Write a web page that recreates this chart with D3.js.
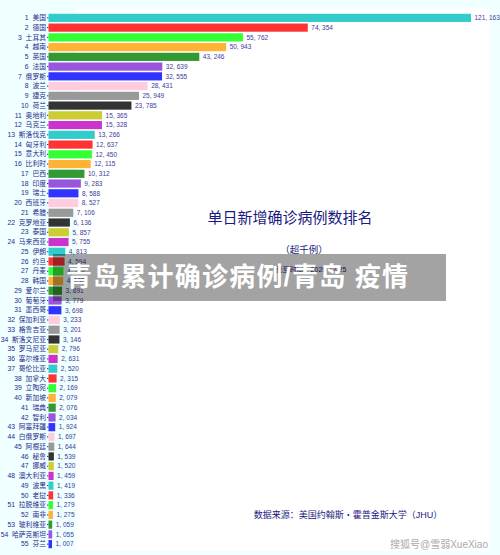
<!DOCTYPE html>
<html>
<head>
<meta charset="utf-8">
<script src="https://cdn.jsdelivr.net/npm/d3@7"></script>
<style>
html, body { margin: 0; padding: 0; background: #f0ffff; }
svg { display: block; }
text { font-family: "Liberation Sans", "Noto Sans CJK SC", sans-serif; }
</style>
</head>
<body>
<div id="svg-container"></div>
<script>
"use strict";
const countries = ["美国", "德国", "土耳其", "越南", "英国", "法国", "俄罗斯", "波兰", "捷克", "荷兰",
    "奥地利", "乌克兰", "斯洛伐克", "匈牙利", "意大利", "比利时", "巴西", "印度", "瑞士", "西班牙",
    "希腊", "克罗地亚", "泰国", "马来西亚", "伊朗", "约旦", "丹麦", "韩国", "爱尔兰", "葡萄牙",
    "墨西哥", "保加利亚", "格鲁吉亚", "斯洛文尼亚", "罗马尼亚", "塞尔维亚", "哥伦比亚", "加拿大", "立陶宛", "新加坡",
    "瑞典", "智利", "阿塞拜疆", "白俄罗斯", "阿根廷", "秘鲁", "挪威", "澳大利亚", "波黑", "老挝",
    "拉脱维亚", "南非", "玻利维亚", "哈萨克斯坦", "芬兰"];
const cases = [121163, 74354, 55762, 50943, 43246, 32639, 32555, 28431, 25949, 23785,
    15365, 15328, 13266, 12637, 12450, 12115, 10312, 9283, 8588, 8527,
    7106, 6136, 5857, 5755, 4813, 4594, 4294, 4197, 3891, 3779,
    3698, 3233, 3201, 3146, 2796, 2631, 2520, 2315, 2169, 2079,
    2076, 2034, 1924, 1697, 1644, 1539, 1520, 1459, 1419, 1336,
    1279, 1275, 1059, 1055, 1007];
const palette = ["#33cccc", "#ff3333", "#33ff33", "#ffb233", "#339933", "#9955dd",
    "#3333ff", "#ffccdd", "#999999", "#333333", "#cccc33", "#cc33cc"];

const width = 500;
const height = 555;
const navy = "#2b2b8c";

const svg = d3.select("#svg-container")
    .append("svg")
    .attr("width", width)
    .attr("height", height);

// white plot panel
svg.append("rect")
    .attr("x", 76)
    .attr("y", 8)
    .attr("width", 414)
    .attr("height", 543)
    .attr("fill", "#fff");

const x = d3.scaleLinear()
    .domain([0, 121163])
    .range([48.5, 471]);
const y = d3.scaleBand()
    .domain(countries)
    .range([13, 549])
    .paddingInner(0.16)
    .paddingOuter(0.08);

const rank = new Map(countries.map((d, i) => [d, i]));

const axis = d3.axisLeft(y)
    .tickSize(1.5)
    .tickPadding(1)
    .tickFormat(d => `${rank.get(d) + 1}  ${d}`);
const axisG = svg.append("g")
    .attr("transform", "translate(48.5, 0)")
    .call(axis);
axisG.select(".domain").remove();
axisG.selectAll("line").attr("stroke", navy);
axisG.selectAll("text")
    .attr("fill", navy)
    .style("font-size", "6.8px")
    .style("white-space", "pre");

svg.append("g")
    .selectAll("rect")
    .data(countries)
    .enter()
    .append("rect")
    .attr("x", x(0))
    .attr("y", d => y(d))
    .attr("width", (d, i) => x(cases[i]) - x(0))
    .attr("height", y.bandwidth())
    .attr("fill", (d, i) => palette[i % palette.length]);

svg.append("g")
    .selectAll("text")
    .data(countries)
    .enter()
    .append("text")
    .attr("x", (d, i) => x(cases[i]) + 3.5)
    .attr("y", d => y(d) + y.bandwidth() / 2)
    .attr("dy", "0.35em")
    .attr("fill", "#3b3b9a")
    .style("font-size", "6.5px")
    .text((d, i) => d3.format(",")(cases[i]).replace(",", ", "));

svg.append("text")
    .attr("x", 290)
    .attr("y", 223)
    .attr("text-anchor", "middle")
    .attr("fill", "#1a1a80")
    .style("font-size", "15px")
    .text("单日新增确诊病例数排名");
svg.append("text")
    .attr("x", 304)
    .attr("y", 253)
    .attr("text-anchor", "middle")
    .attr("fill", "#1a1a80")
    .style("font-size", "9.5px")
    .text("（超千例）");
svg.append("text")
    .attr("x", 311)
    .attr("y", 272)
    .attr("text-anchor", "middle")
    .attr("fill", "#1a1a80")
    .style("font-size", "7px")
    .text("截至时间：2020-12-25");
svg.append("text")
    .attr("x", 348)
    .attr("y", 518)
    .attr("text-anchor", "middle")
    .attr("fill", "#1a1a80")
    .style("font-size", "9px")
    .text("数据来源：美国约翰斯・霍普金斯大学（JHU）");

// title banner over the chart
svg.append("rect")
    .attr("x", 53)
    .attr("y", 254)
    .attr("width", 393)
    .attr("height", 47)
    .attr("fill", "#000")
    .attr("fill-opacity", 0.36);
svg.append("text")
    .attr("x", 66)
    .attr("y", 286)
    .attr("fill", "#fff")
    .style("font-size", "26px")
    .style("font-weight", "bold")
    .style("letter-spacing", "1.2px")
    .text("青岛累计确诊病例/青岛 疫情");

svg.append("text")
    .attr("x", 390)
    .attr("y", 548)
    .attr("fill", "#aaa")
    .style("font-size", "10px")
    .text("搜狐号@雪弱XueXiao");
</script>
</body>
</html>
